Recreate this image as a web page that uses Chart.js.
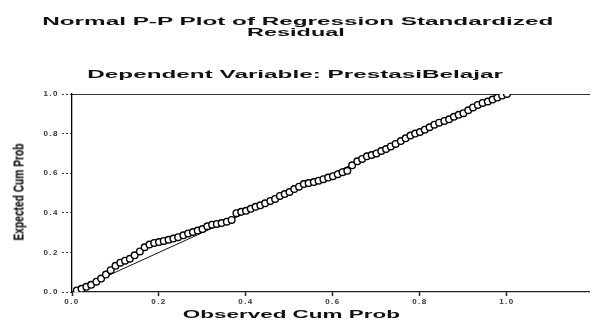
<!DOCTYPE html>
<html>
<head>
<meta charset="utf-8">
<script src="https://cdn.jsdelivr.net/npm/chart.js@4.4.1/dist/chart.umd.min.js"></script>
<style>
  html, body { margin: 0; padding: 0; background: #fff; }
  #wrap { position: relative; width: 595px; height: 322px; overflow: hidden; }
  #chart { position: absolute; left: 0; top: 0; }
  .lbl {
    position: absolute; white-space: nowrap; color: #111;
    font-family: "Liberation Sans", Arial, sans-serif; font-weight: bold;
    transform-origin: center center; line-height: 1;
  }
</style>
</head>
<body>
<div id="wrap">
  <canvas id="chart" width="595" height="322"></canvas>
  <div class="lbl" id="t1" data-w="510" data-cx="297" data-cy="21" style="font-size:11px">Normal P-P Plot of Regression Standardized</div>
  <div class="lbl" id="t2" data-w="98" data-cx="296" data-cy="32" style="font-size:11px">Residual</div>
  <div class="lbl" id="t3" data-w="415" data-cx="295" data-cy="74" style="font-size:11px">Dependent Variable: PrestasiBelajar</div>
  <div class="lbl" id="xt" data-w="218" data-cx="291" data-cy="315" style="font-size:10px">Observed Cum Prob</div>
  <div class="lbl" id="yt" data-w="97" data-cx="18" data-cy="192" data-rot="1"
       style="font-size:14px; color:#000; font-family:'Liberation Sans Narrow','Liberation Sans',Arial,sans-serif">Expected Cum Prob</div>
</div>
<script>
// observed cumulative probability (x) and expected cumulative probability (y)
const observed = [0.011, 0.022, 0.033, 0.044, 0.056, 0.067, 0.078, 0.089, 0.100, 0.111,
                  0.122, 0.133, 0.144, 0.156, 0.167, 0.178, 0.189, 0.200, 0.211, 0.222,
                  0.233, 0.244, 0.256, 0.267, 0.278, 0.289, 0.300, 0.311, 0.322, 0.333,
                  0.344, 0.356, 0.367, 0.378, 0.389, 0.400, 0.411, 0.422, 0.433, 0.444,
                  0.456, 0.467, 0.478, 0.489, 0.500, 0.511, 0.522, 0.533, 0.544, 0.556,
                  0.567, 0.578, 0.589, 0.600, 0.611, 0.622, 0.633, 0.644, 0.656, 0.667,
                  0.678, 0.689, 0.700, 0.711, 0.722, 0.733, 0.744, 0.756, 0.767, 0.778,
                  0.789, 0.800, 0.811, 0.822, 0.833, 0.844, 0.856, 0.867, 0.878, 0.889,
                  0.900, 0.911, 0.922, 0.933, 0.944, 0.956, 0.967, 0.978, 0.989, 1.000];
const expected = [0.008, 0.016, 0.026, 0.036, 0.052, 0.068, 0.088, 0.110, 0.132, 0.148,
                  0.158, 0.168, 0.185, 0.205, 0.226, 0.240, 0.248, 0.252, 0.258, 0.264,
                  0.270, 0.277, 0.286, 0.296, 0.303, 0.310, 0.318, 0.332, 0.340, 0.344,
                  0.348, 0.355, 0.364, 0.398, 0.405, 0.410, 0.420, 0.430, 0.438, 0.448,
                  0.460, 0.470, 0.485, 0.495, 0.505, 0.520, 0.532, 0.545, 0.550, 0.555,
                  0.562, 0.570, 0.578, 0.585, 0.595, 0.605, 0.612, 0.640, 0.660, 0.672,
                  0.685, 0.692, 0.700, 0.712, 0.722, 0.735, 0.748, 0.762, 0.776, 0.790,
                  0.800, 0.808, 0.820, 0.832, 0.845, 0.855, 0.864, 0.872, 0.885, 0.895,
                  0.903, 0.918, 0.932, 0.945, 0.955, 0.962, 0.972, 0.982, 0.992, 1.000];
// reference diagonal
const diagX = [0, 1];
const diagY = [0, 1];
const tickValues = [0, 0.2, 0.4, 0.6, 0.8, 1.0];

const points = observed.map((v, i) => ({ x: v, y: expected[i] }));
const diag = diagX.map((v, i) => ({ x: v, y: diagY[i] }));

// spaced-out tick text like the scanned original
const spacing = {
  id: 'spacing',
  beforeDraw(chart) { chart.ctx.letterSpacing = '1.5px'; }
};

const keepTicks = scale => {
  scale.ticks = tickValues.map(v => ({ value: v }));
};

new Chart(document.getElementById('chart'), {
  type: 'scatter',
  data: {
    datasets: [
      {
        type: 'line',
        data: diag,
        borderColor: '#111',
        borderWidth: 1,
        pointRadius: 0,
        fill: false,
        order: 2
      },
      {
        data: points,
        pointRadius: 3.3,
        pointBackgroundColor: '#fff',
        pointBorderColor: '#000',
        pointBorderWidth: 1.4,
        order: 1
      }
    ]
  },
  options: {
    responsive: false,
    animation: false,
    layout: { padding: { top: 86, left: 0, right: 0, bottom: 0 } },
    plugins: { legend: { display: false }, tooltip: { enabled: false } },
    scales: {
      x: {
        type: 'linear',
        min: 0,
        max: 1.19,
        afterBuildTicks: keepTicks,
        afterFit: s => { s.height = 30; },
        border: { color: '#222', width: 1.2, dash: [14, 4] },
        grid: { drawOnChartArea: false, drawTicks: true, tickLength: 4, color: '#222', tickWidth: 1.5 },
        ticks: {
          padding: 1,
          color: '#333',
          font: { family: 'Liberation Sans, Arial, sans-serif', size: 8, weight: 'bold' },
          callback: v => v.toFixed(1)
        }
      },
      xTop: {
        type: 'linear',
        position: 'top',
        min: 0,
        max: 1.19,
        border: { color: '#333', width: 1, dash: [4, 5] },
        grid: { display: false },
        ticks: { display: false }
      },
      y: {
        min: 0,
        max: 1.0,
        afterBuildTicks: keepTicks,
        afterFit: s => { s.width = 72; },
        border: { color: '#000', width: 1.3 },
        grid: { drawOnChartArea: false, drawTicks: true, tickLength: 10, color: '#444', tickBorderDash: [2, 2] },
        ticks: {
          padding: 3,
          color: '#333',
          font: { family: 'Liberation Sans, Arial, sans-serif', size: 8, weight: 'bold' },
          callback: v => v.toFixed(1)
        }
      }
    }
  },
  plugins: [spacing]
});

// stretch the wide title texts to the widths seen in the original
document.querySelectorAll('.lbl').forEach(el => {
  const w = el.offsetWidth, h = el.offsetHeight;
  const k = (+el.dataset.w) / w;
  el.style.left = (+el.dataset.cx - w / 2) + 'px';
  el.style.top = (+el.dataset.cy - h / 2) + 'px';
  el.style.transform = el.dataset.rot ? `rotate(-90deg) scaleX(${k})` : `scaleX(${k})`;
});
</script>
</body>
</html>
